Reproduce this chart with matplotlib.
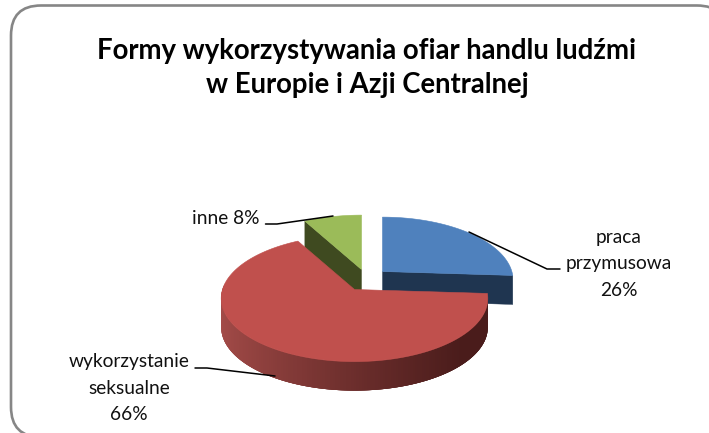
import numpy as np
import matplotlib
matplotlib.use("Agg")
import matplotlib.pyplot as plt
from matplotlib.patches import Polygon, FancyBboxPatch

categories = ["praca\nprzymusowa\n26%", "wykorzystanie\nseksualne\n66%", "inne 8%"]
values = [26, 66, 8]
colors_top = ["#4f81bd", "#c0504d", "#9bbb59"]
colors_cut = ["#1f3550", "#7a2f2d", "#3f4a20"]
title = "Formy wykorzystywania ofiar handlu ludźmi\nw Europie i Azji Centralnej"

W, H = 709, 433
plt.rcParams['font.family'] = ['Lato', 'DejaVu Sans']
fig = plt.figure(figsize=(W/100, H/100), dpi=100)
ax = fig.add_axes([0, 0, 1, 1])
ax.set_xlim(0, W); ax.set_ylim(H, 0); ax.axis('off')

R = 30
ax.add_patch(FancyBboxPatch((11+R, 5.5+R), 716-2*R, 431.5-2*R, boxstyle=f"round,pad={R},rounding_size={R}",
                            fc='white', ec='#868686', lw=1.9, clip_on=True))

RX, B, P = 132.0, 62.0, 0.14
DEPTH = 29
scales = [0.98, 1.0, 1.0]
def proj(t, c, s):
    d = 1 + P*np.cos(t)
    return np.c_[c[0] + s*RX*np.sin(t)/d, c[1] - B*np.cos(t)/d]

bounds = np.cumsum([0] + values) / sum(values) * 2*np.pi
centers = [(382.5, 271.5), (354.5, 289.5), (361.5, 269.5)]

def lerp(a, b, f):
    return tuple(np.array(matplotlib.colors.to_rgb(a))*(1-f) + np.array(matplotlib.colors.to_rgb(b))*f)

for i in [0, 2, 1]:
    c = centers[i]
    t = np.linspace(bounds[i], bounds[i+1], 240)
    rim = proj(t, c, scales[i])
    apex = np.array([c])
    down = np.array([0, DEPTH])
    for k, e in enumerate([rim[0], rim[-1]]):
        if (i == 0 and k == 1) or (i == 2 and k == 0):
            e = np.array(e)
            ax.add_patch(Polygon([apex[0], e, e+down, apex[0]+down], fc=colors_cut[i], ec=colors_cut[i], lw=0.3))
    if i == 1:
        tt = t[t < 1.5*np.pi + 0.1]
        xy = proj(tt, c, 1.0)[::-1]          # paint left to right, each strip overlapping the last
        for j in range(len(xy) - 4):
            a, b = xy[j], xy[j+4]
            f = np.clip((a[0] - 222) / 240, 0, 1)
            col = lerp("#a34b48", "#4a1c1b", f**0.8)
            ax.add_patch(Polygon([a, b, b+down, a+down], fc=col, ec='none'))
    ax.add_patch(Polygon(np.vstack([apex, rim]), fc=colors_top[i], ec=colors_top[i], lw=0.4))

lk = dict(color='black', lw=1.1, solid_capstyle='round', solid_joinstyle='round')
ax.plot([469, 547, 560], [232, 269, 269], **lk)
ax.plot([265.5, 277, 333], [224, 224, 216], **lk)
ax.plot([195, 207, 275], [368, 368, 376], **lk)

tk = dict(fontsize=13.8, color='#111111', ha='center', va='center', linespacing=1.7)
ax.text(619, 264, categories[0], **tk)
ax.text(129, 388, categories[1], **tk)
ax.text(226, 219, categories[2], **tk)
ax.text(367, 68, title, fontsize=19.8, fontweight='bold', color='black', ha='center', va='center', linespacing=1.4)

fig.savefig("out.png", dpi=100)
